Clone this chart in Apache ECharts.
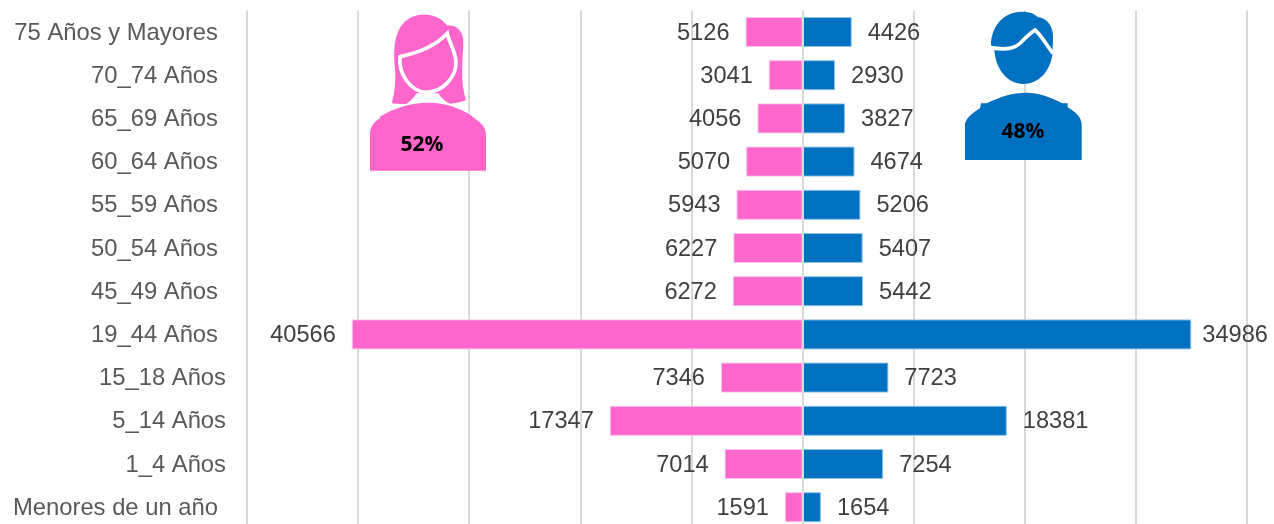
<!DOCTYPE html>
<html>
<head>
<meta charset="utf-8">
<style>
html, body { margin: 0; padding: 0; background: #fff; overflow: hidden; }
#chart { width: 1274px; height: 524px; }
</style>
<script src="https://cdn.jsdelivr.net/npm/echarts@6/dist/echarts.min.js"></script>
</head>
<body>
<div id="chart"></div>
<script>
var categorias = ['75 Años y Mayores', '70_74 Años', '65_69 Años', '60_64 Años', '55_59 Años', '50_54 Años', '45_49 Años', '19_44 Años', '15_18 Años', '5_14 Años', '1_4 Años', 'Menores de un año'];
var mujeres = [5126, 3041, 4056, 5070, 5943, 6227, 6272, 40566, 7346, 17347, 7014, 1591];
var hombres = [4426, 2930, 3827, 4674, 5206, 5407, 5442, 34986, 7723, 18381, 7254, 1654];
var pctMujeres = '52%';
var pctHombres = '48%';

var rosa = '#FF66CC';
var azul = '#0070C0';
var fuente = '"Liberation Sans", Arial, sans-serif';

// estas tres etiquetas quedan mas a la derecha en el original
var masDerecha = ['15_18 Años', '5_14 Años', '1_4 Años'];

var myChart = echarts.init(document.getElementById('chart'));

// las figuras se dibujaron a 3x, por eso la escala
function figura(x, y, d, style) {
    return { type: 'path', x: x, y: y, scaleX: 1 / 3, scaleY: 1 / 3, shape: { pathData: d }, style: style };
}

var iconos = [
    // mujer
    figura(360, 5, 'M95 295 C105 260 108 230 105 190 C100 140 100 90 130 55 C160 22 225 15 262 62 C290 58 312 80 310 115 C308 170 300 230 318 286 C300 292 285 295 270 296 C255 290 243 278 235 265 L170 265 C160 280 150 290 140 296 C125 298 110 297 95 295 Z', { fill: rosa }),
    figura(360, 5, 'M120 155 C170 145 225 125 262 85 C268 115 285 135 288 170 C290 215 250 260 200 262 C150 260 115 205 120 155 Z', { fill: rosa, stroke: '#fff', lineWidth: 11 }),
    figura(360, 5, 'M30 497 L30 385 C32 360 45 350 60 340 L60 335 C100 310 150 293 205 293 C260 293 320 315 350 345 C368 358 378 370 378 390 L378 497 Z', { fill: rosa }),
    // hombre
    figura(955, 0, 'M108 135 C108 80 145 35 200 35 C225 35 240 42 250 52 C280 55 298 85 294 125 L292 165 C285 215 250 252 205 252 C160 252 122 210 118 150 Z', { fill: azul }),
    figura(955, 0, 'M106 143 C150 150 180 148 200 125 C215 110 228 98 240 90 C258 105 275 135 294 160', { fill: 'none', stroke: '#fff', lineWidth: 11 }),
    figura(955, 0, 'M30 480 L30 372 C35 350 60 335 75 325 L78 310 L95 310 C135 290 175 278 212 278 C250 278 290 292 322 310 L338 310 L338 322 C360 335 378 350 380 372 L380 480 Z', { fill: azul })
];

var option = {
    animation: false,
    backgroundColor: '#fff',
    grid: { left: 247, right: 27, top: 10.4, height: 518.4, outerBoundsMode: 'none' },
    xAxis: {
        type: 'value',
        min: -50000,
        max: 40000,
        interval: 10000,
        axisLabel: { show: false },
        axisLine: { show: false },
        axisTick: { show: false },
        splitLine: { lineStyle: { color: '#d9d9d9', width: 2 } }
    },
    yAxis: {
        type: 'category',
        inverse: true,
        data: categorias,
        axisLine: { show: false, onZero: false },
        axisTick: { show: false },
        axisLabel: {
            margin: 21,
            formatter: function (v) {
                return masDerecha.indexOf(v) >= 0 ? '{b|' + v + '}' : '{a|' + v + '}';
            },
            rich: {
                a: { fontSize: 23.8, fontFamily: fuente, color: '#595959', padding: [2, 8, 0, 0] },
                b: { fontSize: 23.8, fontFamily: fuente, color: '#595959', padding: [2, 0, 0, 0] }
            }
        }
    },
    series: [{
        name: 'Mujeres',
        type: 'bar',
        stack: 'total',
        barWidth: 30,
        data: mujeres.map(function (v) { return -v; }),
        itemStyle: { color: rosa, borderColor: '#ffc2eb', borderWidth: 1 },
        label: {
            show: true,
            position: 'left',
            distance: 16,
            offset: [0, 1],
            fontSize: 23.6,
            fontFamily: fuente,
            color: '#404040',
            formatter: function (p) { return Math.abs(p.value); }
        },
        markLine: {
            silent: true,
            symbol: 'none',
            label: { show: false },
            lineStyle: { color: '#d9d9d9', width: 2, type: 'solid' },
            data: [{ xAxis: 0 }]
        }
    }, {
        name: 'Hombres',
        type: 'bar',
        stack: 'total',
        barWidth: 30,
        // la barra mas larga lleva la etiqueta mas pegada, si no se sale del lienzo
        data: hombres.map(function (v) {
            return v === Math.max.apply(null, hombres) ? { value: v, label: { distance: 11 } } : v;
        }),
        itemStyle: { color: azul, borderColor: '#8fc4e8', borderWidth: 1 },
        label: {
            show: true,
            position: 'right',
            distance: 16,
            offset: [0, 1],
            fontSize: 23.6,
            fontFamily: fuente,
            color: '#404040'
        }
    }, {
        type: 'custom',
        coordinateSystem: 'none',
        silent: true,
        z: 10,
        data: [0],
        renderItem: function () {
            return { type: 'group', children: iconos };
        }
    }],
    graphic: [
        {
            type: 'text', x: 422, y: 145, z: 20,
            style: { text: pctMujeres, fill: '#000', font: 'bold 21px "Open Sans", sans-serif', textAlign: 'center', textVerticalAlign: 'middle' }
        },
        {
            type: 'text', x: 1023, y: 132, z: 20,
            style: { text: pctHombres, fill: '#000', font: 'bold 21px "Open Sans", sans-serif', textAlign: 'center', textVerticalAlign: 'middle' }
        }
    ]
};

myChart.setOption(option);
</script>
</body>
</html>
